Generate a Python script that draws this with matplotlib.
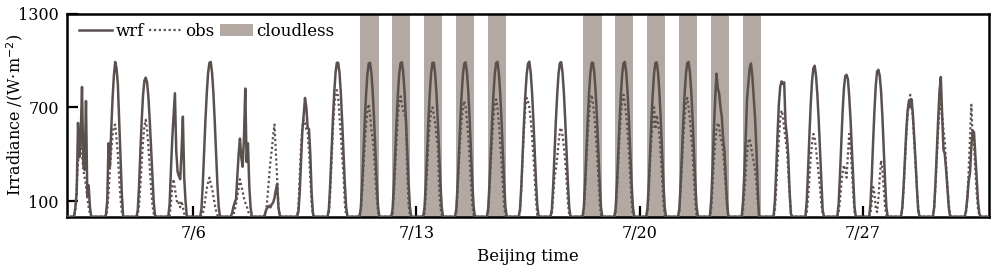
import numpy as np
import pandas as pd
import matplotlib
matplotlib.use("Agg")
import matplotlib.pyplot as plt
from matplotlib.patches import Patch
from matplotlib.lines import Line2D

plt.rcParams['font.family'] = ['DejaVu Serif']

# ---- data -------------------------------------------------------------
start_date = "2020-07-02"
n_days = 29
profile_hours = list(range(5, 21))          # hourly values listed for 05:00 .. 20:00

wrf_profiles = [
    [0, 0, 60, 150, 600, 380, 500, 830, 330, 300, 740, 130, 200, 60, 0, 0],            # 7/2
    [0, 10, 100, 470, 320, 550, 750, 900, 990, 950, 850, 620, 400, 150, 0, 0],         # 7/3
    [0, 40, 200, 420, 620, 780, 870, 890, 860, 770, 620, 450, 270, 100, 10, 0],        # 7/4
    [0, 80, 300, 500, 650, 790, 420, 290, 260, 240, 420, 640, 250, 100, 0, 0],         # 7/5
    [0, 50, 210, 420, 620, 790, 920, 985, 990, 920, 790, 610, 410, 210, 60, 0],        # 7/6
    [20, 60, 90, 110, 250, 400, 500, 380, 320, 500, 820, 350, 470, 200, 60, 0],        # 7/7
    [0, 20, 50, 60, 70, 60, 80, 90, 120, 170, 210, 60, 10, 0, 0, 0],                   # 7/8
    [0, 0, 30, 150, 350, 550, 650, 760, 700, 570, 560, 400, 150, 20, 0, 0],            # 7/9
    [0, 50, 210, 420, 620, 790, 920, 985, 985, 920, 790, 610, 410, 210, 60, 0],        # 7/10
    [0, 50, 200, 410, 610, 780, 910, 980, 985, 920, 800, 630, 430, 230, 70, 0],        # 7/11
    [0, 50, 205, 415, 615, 785, 915, 982, 988, 922, 798, 625, 425, 225, 65, 0],        # 7/12
    [0, 55, 210, 420, 620, 790, 918, 985, 986, 918, 795, 620, 420, 220, 60, 0],        # 7/13
    [0, 50, 205, 412, 612, 782, 912, 980, 988, 925, 802, 628, 428, 228, 68, 0],        # 7/14
    [0, 52, 208, 418, 618, 786, 916, 984, 990, 921, 797, 622, 422, 222, 62, 0],        # 7/15
    [0, 48, 200, 410, 608, 780, 910, 980, 992, 926, 803, 630, 430, 230, 70, 0],        # 7/16
    [0, 50, 204, 414, 614, 784, 914, 983, 989, 923, 799, 626, 426, 226, 66, 0],        # 7/17
    [0, 55, 212, 422, 622, 792, 920, 986, 985, 916, 792, 618, 418, 218, 58, 0],        # 7/18
    [0, 50, 206, 416, 616, 786, 916, 984, 990, 922, 798, 624, 424, 224, 64, 0],        # 7/19
    [0, 52, 208, 418, 618, 788, 917, 985, 987, 919, 795, 620, 420, 220, 60, 0],        # 7/20
    [0, 50, 205, 415, 615, 785, 915, 983, 990, 922, 798, 625, 425, 225, 65, 0],        # 7/21
    [0, 100, 300, 550, 750, 915, 820, 790, 700, 640, 500, 420, 250, 80, 0, 0],         # 7/22
    [0, 100, 280, 500, 750, 850, 950, 980, 900, 770, 640, 450, 200, 0, 0, 0],          # 7/23
    [0, 100, 300, 530, 720, 830, 866, 850, 860, 600, 520, 400, 180, 20, 0, 0],         # 7/24
    [0, 100, 300, 520, 720, 870, 950, 966, 900, 780, 620, 430, 230, 40, 0, 0],         # 7/25
    [0, 80, 260, 470, 670, 820, 900, 908, 880, 770, 620, 430, 230, 60, 0, 0],          # 7/26
    [0, 80, 260, 480, 680, 840, 930, 940, 900, 800, 640, 440, 230, 60, 0, 0],          # 7/27
    [0, 60, 200, 380, 550, 680, 740, 700, 750, 650, 500, 350, 180, 40, 0, 0],          # 7/28
    [0, 60, 220, 420, 620, 800, 894, 650, 430, 400, 300, 180, 60, 0, 0, 0],            # 7/29
    [0, 40, 120, 230, 280, 450, 550, 540, 400, 250, 100, 20, 0, 0, 0, 0],              # 7/30
]

obs_profiles = [
    [0, 0, 40, 200, 350, 420, 460, 400, 300, 250, 200, 120, 60, 20, 0, 0],            # 7/2
    [0, 0, 40, 150, 300, 420, 520, 580, 590, 500, 400, 250, 120, 30, 0, 0],            # 7/3
    [0, 10, 80, 200, 350, 480, 580, 620, 560, 450, 320, 190, 80, 20, 0, 0],            # 7/4
    [0, 0, 80, 200, 240, 180, 120, 80, 90, 60, 100, 60, 20, 0, 0, 0],                  # 7/5
    [0, 0, 20, 60, 120, 180, 220, 250, 210, 180, 130, 80, 40, 10, 0, 0],               # 7/6
    [0, 10, 40, 80, 130, 180, 240, 200, 160, 120, 90, 70, 40, 10, 0, 0],               # 7/7
    [0, 10, 60, 150, 260, 360, 430, 520, 590, 420, 250, 60, 0, 0, 0, 0],               # 7/8
    [0, 0, 60, 250, 450, 570, 620, 600, 560, 540, 420, 250, 80, 10, 0, 0],             # 7/9
    [0, 20, 150, 350, 550, 700, 780, 810, 760, 640, 520, 380, 280, 80, 10, 0],         # 7/10
    [0, 30, 150, 300, 450, 580, 680, 720, 650, 560, 500, 400, 260, 120, 30, 0],        # 7/11
    [0, 20, 150, 320, 500, 650, 740, 770, 720, 680, 650, 640, 280, 80, 10, 0],         # 7/12
    [0, 20, 130, 300, 470, 600, 680, 700, 650, 600, 520, 450, 180, 60, 10, 0],         # 7/13
    [0, 30, 180, 350, 500, 620, 700, 740, 700, 620, 500, 380, 220, 80, 10, 0],         # 7/14
    [0, 30, 170, 350, 500, 630, 720, 750, 700, 600, 480, 350, 200, 70, 10, 0],         # 7/15
    [0, 30, 180, 380, 560, 700, 760, 740, 700, 620, 520, 400, 260, 100, 10, 0],        # 7/16
    [0, 20, 130, 260, 300, 380, 470, 550, 570, 520, 450, 360, 240, 100, 10, 0],        # 7/17
    [0, 30, 170, 350, 520, 650, 740, 780, 720, 640, 530, 400, 250, 90, 10, 0],         # 7/18
    [0, 30, 160, 340, 510, 650, 740, 780, 730, 650, 540, 410, 260, 100, 10, 0],        # 7/19
    [0, 30, 170, 350, 500, 600, 700, 560, 650, 600, 520, 400, 250, 90, 10, 0],         # 7/20
    [0, 30, 170, 340, 500, 640, 720, 760, 700, 620, 520, 400, 250, 90, 10, 0],         # 7/21
    [0, 40, 180, 350, 470, 560, 600, 580, 500, 480, 420, 300, 180, 60, 0, 0],          # 7/22
    [0, 40, 150, 280, 400, 480, 500, 450, 400, 350, 300, 220, 100, 20, 0, 0],          # 7/23
    [0, 40, 180, 350, 500, 620, 680, 650, 560, 500, 430, 300, 150, 40, 0, 0],          # 7/24
    [0, 30, 120, 250, 380, 470, 530, 500, 430, 350, 270, 180, 80, 20, 0, 0],           # 7/25
    [0, 30, 100, 200, 280, 330, 300, 250, 400, 530, 450, 300, 150, 30, 0, 0],          # 7/26
    [0, 20, 100, 190, 150, 50, 30, 120, 250, 360, 300, 180, 60, 10, 0, 0],             # 7/27
    [0, 50, 180, 350, 520, 650, 740, 780, 720, 620, 480, 330, 180, 50, 0, 0],          # 7/28
    [0, 50, 200, 380, 550, 680, 720, 650, 560, 480, 330, 200, 80, 10, 0, 0],           # 7/29
    [0, 30, 120, 300, 500, 716, 500, 450, 300, 150, 50, 10, 0, 0, 0, 0],               # 7/30
]

cloudless_days = ["2020-07-11", "2020-07-12", "2020-07-13", "2020-07-14", "2020-07-15",
                  "2020-07-18", "2020-07-19", "2020-07-20", "2020-07-21", "2020-07-22",
                  "2020-07-23"]
cloudless_start_h, cloudless_end_h = 5.6, 19.4

tick_dates = ["2020-07-06", "2020-07-13", "2020-07-20", "2020-07-27"]
tick_labels = ["7/6", "7/13", "7/20", "7/27"]
yticks = [100, 700, 1300]

# ---- build hourly series ---------------------------------------------
t0 = pd.Timestamp(start_date)
times = pd.date_range(t0, periods=n_days * 24, freq="h")
wrf = np.zeros(len(times))
obs = np.zeros(len(times))
for d in range(n_days):
    for j, h in enumerate(profile_hours):
        wrf[d * 24 + h] = wrf_profiles[d][j]
        obs[d * 24 + h] = obs_profiles[d][j]

# ---- plot -------------------------------------------------------------
line_c = "#5a514e"
band_c = "#b3a9a2"

fig = plt.figure(figsize=(10, 2.72), dpi=100)
ax = fig.add_axes([0.067, 0.2033, 0.922, 0.7470])

for d in cloudless_days:
    dd = pd.Timestamp(d)
    ax.axvspan(dd + pd.Timedelta(hours=cloudless_start_h),
               dd + pd.Timedelta(hours=cloudless_end_h),
               color=band_c, lw=0, zorder=0)

ax.plot(times, wrf, color=line_c, lw=1.8, zorder=3)
ax.plot(times, obs, color=line_c, lw=1.6, ls=(0, (1, 1.2)), zorder=4)

ax.set_xlim(t0 + pd.Timedelta(hours=0.7), t0 + pd.Timedelta(hours=695.3))
ax.set_ylim(0, 1300)
ax.set_yticks(yticks)
ax.set_xticks([pd.Timestamp(t) for t in tick_dates])
ax.set_xticklabels(tick_labels)

ax.tick_params(direction="in", length=8, width=1.6, labelsize=11.5, pad=6)
for s in ax.spines.values():
    s.set_linewidth(1.8)

ax.set_ylabel("Irradiance /(W$\\cdot$m$^{-2}$)", fontsize=11.5)
ax.yaxis.set_label_coords(-0.046, 0.5)
ax.set_xlabel("Beijing time", fontsize=12)
ax.xaxis.set_label_coords(0.5, -0.155)

handles = [Line2D([], [], color=line_c, lw=1.8),
           Line2D([], [], color=line_c, lw=1.6, ls=(0, (1, 1.2))),
           Patch(facecolor=band_c, edgecolor="none")]
ax.legend(handles, ["wrf", "obs", "cloudless"], loc="upper left", ncol=3,
          frameon=False, fontsize=12, handlelength=2.0, handletextpad=0.2,
          columnspacing=0.3, bbox_to_anchor=(0.0, 1.01), borderaxespad=0.3)

fig.savefig("out.png", dpi=100)
